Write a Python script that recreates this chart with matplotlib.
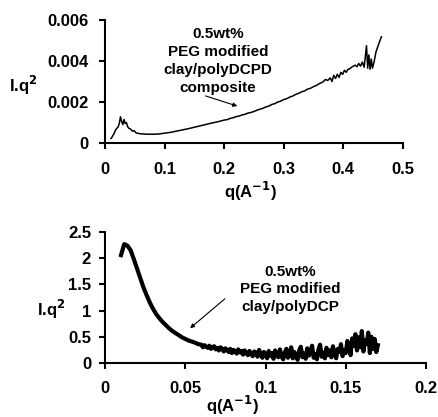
import matplotlib
matplotlib.use('Agg')
import matplotlib.pyplot as plt

plt.rcParams['font.family'] = ['Liberation Sans', 'DejaVu Sans']
plt.rcParams['font.weight'] = 'bold'

# top panel: 0.5wt% PEG modified clay/polyDCPD composite
q_top = [0.010, 0.012, 0.015, 0.018, 0.020, 0.022, 0.024, 0.026, 0.028, 0.030,
         0.032, 0.034, 0.036, 0.038, 0.040, 0.043, 0.046, 0.049, 0.052, 0.056,
         0.060, 0.065, 0.070, 0.080, 0.090, 0.100, 0.110, 0.120, 0.130, 0.140,
         0.150, 0.160, 0.170, 0.180, 0.190, 0.200, 0.205, 0.210, 0.215, 0.220,
         0.225, 0.230, 0.235, 0.240, 0.245, 0.250, 0.255, 0.260, 0.265, 0.270,
         0.275, 0.280, 0.285, 0.290, 0.295, 0.300, 0.305, 0.310, 0.315, 0.320,
         0.325, 0.330, 0.335, 0.340, 0.345, 0.350, 0.355, 0.360, 0.366, 0.370,
         0.374, 0.378, 0.381, 0.384, 0.387, 0.390, 0.393, 0.396, 0.399, 0.402,
         0.405, 0.408, 0.411, 0.414, 0.417, 0.420, 0.423, 0.426, 0.429, 0.432,
         0.435, 0.437, 0.439, 0.441, 0.443, 0.445, 0.447, 0.449, 0.452, 0.455,
         0.458, 0.461, 0.464]
iq2_top = [0.00022, 0.00030, 0.00045, 0.00065, 0.00072, 0.00078, 0.00095, 0.00128, 0.00105, 0.00090,
           0.00115, 0.00095, 0.00100, 0.00080, 0.00072, 0.00068, 0.00058, 0.00060, 0.00050, 0.00047,
           0.00045, 0.00044, 0.00043, 0.00043, 0.00044, 0.00048, 0.00052, 0.00058, 0.00064, 0.00070,
           0.00077, 0.00084, 0.00091, 0.00098, 0.00104, 0.00112, 0.00114, 0.00120, 0.00123, 0.00129,
           0.00131, 0.00137, 0.00140, 0.00146, 0.00149, 0.00154, 0.00160, 0.00165, 0.00169, 0.00176,
           0.00180, 0.00188, 0.00192, 0.00200, 0.00204, 0.00212, 0.00216, 0.00224, 0.00229, 0.00237,
           0.00242, 0.00250, 0.00254, 0.00263, 0.00267, 0.00275, 0.00281, 0.00290, 0.00298, 0.00310,
           0.00305, 0.00318, 0.00300, 0.00330, 0.00315, 0.00335, 0.00320, 0.00345, 0.00335, 0.00355,
           0.00345, 0.00360, 0.00362, 0.00370, 0.00375, 0.00380, 0.00372, 0.00388, 0.00375, 0.00395,
           0.00370, 0.00420, 0.00475, 0.00365, 0.00430, 0.00360, 0.00410, 0.00365, 0.00400, 0.00445,
           0.00470, 0.00495, 0.00518]

# bottom panel: 0.5wt% PEG modified clay/polyDCP
q_bot = [0.010, 0.012, 0.014, 0.016, 0.018, 0.020, 0.022, 0.024, 0.026, 0.028,
         0.030, 0.032, 0.034, 0.036, 0.038, 0.040, 0.042, 0.044, 0.046, 0.048,
         0.050, 0.052, 0.054, 0.056, 0.058,
         0.060, 0.061, 0.062, 0.063, 0.064, 0.065, 0.066, 0.067, 0.068, 0.069,
         0.070, 0.071, 0.072, 0.073, 0.074, 0.075, 0.076, 0.077, 0.078, 0.079,
         0.080, 0.081, 0.082, 0.083, 0.084, 0.085, 0.086, 0.087, 0.088, 0.089,
         0.090, 0.091, 0.092, 0.093, 0.094, 0.095, 0.096, 0.097, 0.098, 0.099,
         0.100, 0.101, 0.102, 0.103, 0.104, 0.105, 0.106, 0.107, 0.108, 0.109,
         0.110, 0.111, 0.112, 0.113, 0.114, 0.115, 0.116, 0.117, 0.118, 0.119,
         0.120, 0.121, 0.122, 0.123, 0.124, 0.125, 0.126, 0.127, 0.128, 0.129,
         0.130, 0.131, 0.132, 0.133, 0.134, 0.135, 0.136, 0.137, 0.138, 0.139,
         0.140, 0.141, 0.142, 0.143, 0.144, 0.145, 0.146, 0.147, 0.148, 0.149,
         0.150, 0.151, 0.152, 0.153, 0.154, 0.155, 0.156, 0.157, 0.158, 0.159,
         0.160, 0.161, 0.162, 0.163, 0.164, 0.165, 0.166, 0.167, 0.168, 0.169,
         0.170]
iq2_bot = [2.06, 2.27, 2.24, 2.15, 1.98, 1.80, 1.62, 1.44, 1.29, 1.15,
           1.03, 0.93, 0.85, 0.78, 0.72, 0.66, 0.61, 0.57, 0.53, 0.49,
           0.46, 0.43, 0.41, 0.39, 0.36,
           0.35, 0.30, 0.34, 0.31, 0.29, 0.33, 0.27, 0.30, 0.32, 0.26,
           0.29, 0.24, 0.30, 0.27, 0.22, 0.28, 0.25, 0.21, 0.27, 0.19,
           0.25, 0.22, 0.18, 0.26, 0.20, 0.23, 0.16, 0.24, 0.19, 0.15,
           0.23, 0.18, 0.13, 0.22, 0.20, 0.12, 0.25, 0.16, 0.10, 0.21,
           0.17, 0.09, 0.23, 0.14, 0.19, 0.08, 0.24, 0.15, 0.11, 0.26,
           0.12, 0.07, 0.20, 0.27, 0.10, 0.16, 0.30, 0.09, 0.21, 0.13,
           0.06, 0.24, 0.31, 0.11, 0.18, 0.08, 0.28, 0.14, 0.22, 0.33,
           0.10, 0.17, 0.07, 0.26, 0.35, 0.12, 0.20, 0.09, 0.29, 0.15,
           0.24, 0.11, 0.32, 0.18, 0.09, 0.27, 0.21, 0.36, 0.13, 0.25,
           0.19, 0.42, 0.28, 0.15, 0.47, 0.33, 0.55, 0.24, 0.49, 0.30,
           0.61, 0.22, 0.44, 0.36, 0.58, 0.19, 0.50, 0.27, 0.46, 0.21,
           0.34]

top_xticks = [0, 0.1, 0.2, 0.3, 0.4, 0.5]
top_xlabels = ['0', '0.1', '0.2', '0.3', '0.4', '0.5']
top_yticks = [0, 0.002, 0.004, 0.006]
top_ylabels = ['0', '0.002', '0.004', '0.006']
bot_xticks = [0, 0.05, 0.1, 0.15, 0.2]
bot_xlabels = ['0', '0.05', '0.1', '0.15', '0.2']
bot_yticks = [0, 0.5, 1, 1.5, 2, 2.5]
bot_ylabels = ['0', '0.5', '1', '1.5', '2', '2.5']


def style_axes(ax, xpad, ypad):
    for side in ['top', 'right']:
        ax.spines[side].set_visible(False)
    for side in ['left', 'bottom']:
        ax.spines[side].set_linewidth(1.5)
    ax.tick_params(direction='out', length=4, width=1.5, labelsize=12)
    ax.tick_params(axis='x', pad=xpad)
    ax.tick_params(axis='y', pad=ypad)


fig = plt.figure(figsize=(4.38, 4.17), dpi=100)

ax1 = fig.add_axes([0.2397, 0.657, 0.680, 0.295])
ax1.plot(q_top, iq2_top, color='black', lw=1.1)
ax1.set_xlim(0, 0.5)
ax1.set_ylim(0, 0.006)
ax1.set_xticks(top_xticks)
ax1.set_xticklabels(top_xlabels)
ax1.set_yticks(top_yticks)
ax1.set_yticklabels(top_ylabels)
style_axes(ax1, 10, 8)
ax1.annotate('', xy=(0.2265, 0.00176), xytext=(0.1644, 0.00234),
             arrowprops=dict(arrowstyle='-|>', color='black', lw=0.8,
                             mutation_scale=6))
ax1.text(0.1896, 0.00565, '0.5wt%\nPEG modified\nclay/polyDCPD\ncomposite',
         ha='center', va='top', fontsize=11, linespacing=1.36)

ax2 = fig.add_axes([0.2397, 0.1295, 0.733, 0.314])
ax2.plot(q_bot, iq2_bot, color='black', lw=3)
ax2.set_xlim(0, 0.2)
ax2.set_ylim(0, 2.5)
ax2.set_xticks(bot_xticks)
ax2.set_xticklabels(bot_xlabels)
ax2.set_yticks(bot_yticks)
ax2.set_yticklabels(bot_ylabels)
style_axes(ax2, 9, 6)
ax2.annotate('', xy=(0.0517, 0.63), xytext=(0.076, 1.26),
             arrowprops=dict(arrowstyle='-|>', color='black', lw=0.8,
                             mutation_scale=6))
ax2.text(0.1153, 1.88, '0.5wt%\nPEG modified\nclay/polyDCP',
         ha='center', va='top', fontsize=11, linespacing=1.36)

fig.text(0.053, 0.795, 'I.q$^\\mathbf{2}$', ha='center', va='center', fontsize=12)
fig.text(0.572, 0.542, 'q(A$^\\mathbf{-1}$)', ha='center', va='center', fontsize=12)
fig.text(0.116, 0.257, 'I.q$^\\mathbf{2}$', ha='center', va='center', fontsize=12)
fig.text(0.530, 0.028, 'q(A$^\\mathbf{-1}$)', ha='center', va='center', fontsize=12)

fig.savefig('out.png', dpi=100)
